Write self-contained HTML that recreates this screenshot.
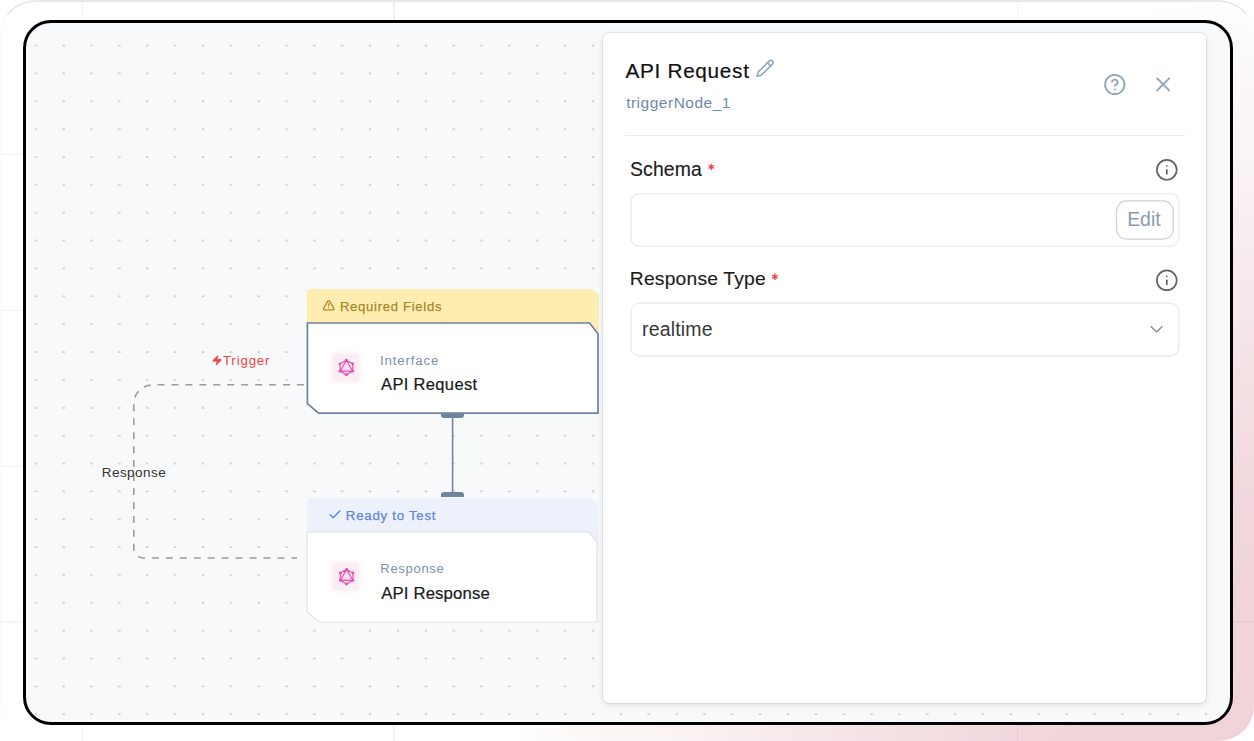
<!DOCTYPE html>
<html>
<head>
<meta charset="utf-8">
<style>
*{box-sizing:border-box;}
html,body{margin:0;padding:0;}
body{width:1254px;height:741px;overflow:hidden;position:relative;background:#fff;font-family:"Liberation Sans",sans-serif;}
.abs{position:absolute;}
#outer{position:absolute;left:0;top:0;width:1254px;height:741px;border-radius:35px;overflow:hidden;
  background:radial-gradient(circle 740px at 100% 100%, #f0d3d9 0%, #f1d6dc 30%, #f4e1e4 48%, #f7ebed 65%, #faf4f4 80%, #fcf9f9 92%, #ffffff 100%);
}
#topbar{position:absolute;left:0;top:0;width:1254px;height:741px;border-radius:35px;border:1px solid rgba(0,0,0,0.02);border-top:2px solid #e8e8ec;border-bottom:none;border-right-color:transparent;}
.gv{position:absolute;top:0;width:1.6px;height:741px;background:rgba(120,110,140,0.11);}
.gh{position:absolute;left:0;height:1.4px;width:1254px;background:linear-gradient(to right, rgba(110,110,140,0.09) 0%, rgba(110,110,140,0.09) 80%, rgba(110,110,140,0) 97%);}
#frame{position:absolute;left:22.5px;top:19.5px;width:1210px;height:705px;border:3px solid #000;border-radius:28px;background:#f8f9fb;overflow:hidden;}
#inner{position:absolute;left:-25.5px;top:-22.5px;width:1254px;height:741px;}
.t{position:absolute;white-space:nowrap;line-height:1;}
</style>
</head>
<body>
<div id="outer">
  <div class="gv" style="left:81.5px"></div>
  <div class="gv" style="left:393.2px"></div>
  <div class="gv" style="left:1016.5px"></div>
  <div class="gh" style="top:153.6px"></div>
  <div class="gh" style="top:309.6px"></div>
  <div class="gh" style="top:465.6px"></div>
  <div class="gh" style="top:621.2px;background:rgba(150,110,130,0.08)"></div>
</div>
<div id="topbar"></div>
<div id="frame">
 <div id="inner">
  <svg class="abs" style="left:0;top:0" width="1254" height="741">
    <defs>
      <pattern id="dots" x="35.8" y="45.5" width="27.86" height="27.86" patternUnits="userSpaceOnUse">
        <ellipse cx="0" cy="0" rx="1.5" ry="0.55" fill="#a2a4aa"/>
        <ellipse cx="27.86" cy="0" rx="1.5" ry="0.55" fill="#a2a4aa"/>
        <ellipse cx="0" cy="27.86" rx="1.5" ry="0.55" fill="#a2a4aa"/>
        <ellipse cx="27.86" cy="27.86" rx="1.5" ry="0.55" fill="#a2a4aa"/>
      </pattern>
    </defs>
    <rect x="0" y="0" width="1203" height="704" fill="url(#dots)"/><rect x="0" y="704" width="1254" height="37" fill="url(#dots)"/>
    <!-- dashed response edge -->
    <path id="dpath" d="M304 384.8 H152.8 A19 19 0 0 0 133.8 403.8 V548 A10 10 0 0 0 143.8 558 H297.2" fill="none" stroke="#9c9c9c" stroke-width="1.6" stroke-dasharray="7 6.95"/>
    <!-- vertical edge between nodes -->
    <line x1="452.6" y1="416" x2="452.6" y2="495" stroke="#7085a0" stroke-width="1.6"/>
  </svg>

  <!-- edge labels -->
  <div class="t" id="t_trigger" style="left:222.93px;top:353.7px;font-size:13.25px;color:#ef4444;letter-spacing:0.85px;">Trigger</div>
  <div class="t" id="t_resplabel" style="left:101.77px;top:465.7px;font-size:13.5px;color:#333;letter-spacing:0.45px;">Response</div>

  <!-- Node 1 -->
  <div class="abs" style="left:306.8px;top:288.6px;width:292px;height:50px;background:#fdedb0;clip-path:polygon(0 3px,3px 0,calc(100% - 7.5px) 0,100% 5.5px,100% 100%,0 100%);"></div>
  <div class="t" id="t_reqf" style="left:339.99px;top:299.9px;font-size:13px;color:#a7862a;letter-spacing:0.74px;-webkit-text-stroke:0.25px #a7862a;">Required Fields</div>
  <svg class="abs" style="left:306px;top:322px" width="294" height="93">
    <path d="M1.4 1 H283.6 L292 11.8 V91.2 H12.6 L1.4 81.6 Z" fill="#fff" stroke="#6f839e" stroke-width="1.7" stroke-linejoin="miter"/>
  </svg>
  <div class="abs" style="left:332.5px;top:353.5px;width:26.5px;height:27px;background:#f9eef3;border-radius:3px;box-shadow:0 0 4px 1px rgba(245,205,220,0.35);"></div>
  <div class="t" id="t_interface" style="left:380.04px;top:353.7px;font-size:13.25px;color:#7d92ae;letter-spacing:0.85px;">Interface</div>
  <div class="t" id="t_apireq" style="left:381.04px;top:375.5px;font-size:16.5px;color:#1a1a1a;letter-spacing:0.34px;-webkit-text-stroke:0.2px #1a1a1a;">API Request</div>
  <div class="abs" style="left:441px;top:412.5px;width:23px;height:5.5px;background:#6f84a0;border-radius:0 0 3px 3px;"></div>

  <!-- Node 2 -->
  <div class="abs" style="left:441.4px;top:491.9px;width:22.5px;height:5.6px;background:#6f84a0;border-radius:3px 3px 0 0;"></div>
  <div class="abs" style="left:307px;top:498.1px;width:291.7px;height:50px;background:#ecf1fc;clip-path:polygon(0 3px,3px 0,calc(100% - 7.7px) 0,100% 5.7px,100% 100%,0 100%);"></div>
  <div class="t" id="t_ready" style="left:345.87px;top:508.7px;font-size:13.25px;color:#5b85e0;letter-spacing:0.74px;-webkit-text-stroke:0.25px #5b85e0;">Ready to Test</div>
  <svg class="abs" style="left:306px;top:531px" width="294" height="92">
    <path d="M1.2 0.8 H282.6 L291 10.8 V91 H12.6 L1.2 80.9 Z" fill="#fff" stroke="#e1e3e7" stroke-width="1.2"/>
  </svg>
  <div class="abs" style="left:332.8px;top:562.7px;width:26.5px;height:27px;background:#f9eef3;border-radius:3px;box-shadow:0 0 4px 1px rgba(245,205,220,0.35);"></div>
  <div class="t" id="t_resp" style="left:380.29px;top:562.1px;font-size:13px;color:#7d92ae;letter-spacing:0.71px;">Response</div>
  <div class="t" id="t_apiresp" style="left:381.24px;top:585.7px;font-size:16.75px;color:#1a1a1a;letter-spacing:0.13px;-webkit-text-stroke:0.2px #1a1a1a;">API Response</div>

  <!-- Panel -->
  <div class="abs" style="left:603.4px;top:32.5px;width:603px;height:670px;background:#fff;border-radius:6px;box-shadow:0 0 0 1px rgba(0,0,0,0.04), 0 2px 6px rgba(0,0,0,0.11), 0 0 2px rgba(0,0,0,0.06);"></div>
  <div class="t" id="t_title" style="left:625.44px;top:61.3px;font-size:20.75px;color:#111;letter-spacing:0.7px;-webkit-text-stroke:0.2px #111;">API Request</div>
  <div class="t" id="t_trig" style="left:626.14px;top:94.95px;font-size:15.5px;color:#7189ab;letter-spacing:0.51px;">triggerNode_1</div>
  <div class="abs" style="left:625px;top:134.6px;width:560px;height:1px;background:#f4e9e9;"></div>

  <div class="t" id="t_schema" style="left:630.06px;top:159.9px;font-size:19.4px;color:#1c1c1c;letter-spacing:0.1px;-webkit-text-stroke:0.15px #1c1c1c;">Schema</div>
    <svg class="abs" style="left:0;top:0" width="1254" height="741"><rect x="631" y="193.55" width="547.9" height="52.75" rx="8.5" fill="#fff" stroke="#e8eaee" stroke-width="1.3"/><rect x="1116.5" y="200.9" width="56.8" height="38.2" rx="10" fill="#fff" stroke="#cdd2da" stroke-width="1.2"/><rect x="631" y="303.15" width="547.9" height="52.85" rx="8.5" fill="#fff" stroke="#e8eaee" stroke-width="1.3"/></svg>
  <div class="t" id="t_edit" style="left:1127.17px;top:210.4px;font-size:19.5px;color:#8a9cb4;letter-spacing:-0.06px;">Edit</div>

  <div class="t" id="t_resptype" style="left:629.79px;top:269.2px;font-size:19.25px;color:#1c1c1c;letter-spacing:0.21px;-webkit-text-stroke:0.15px #1c1c1c;">Response Type</div>
    <div class="t" id="t_realtime" style="left:642.02px;top:319.8px;font-size:19.5px;color:#373737;letter-spacing:0.17px;">realtime</div>
  <svg class="abs" style="left:0;top:0;overflow:visible" width="1254" height="741">
    <!-- graphql icons -->
    <path d="M346.40 360.20 L352.72 371.15 L340.08 371.15 Z" fill="#f9dcee" stroke="none"/><path d="M346.40 360.20 L352.72 363.85 L352.72 371.15 L346.40 374.80 L340.08 371.15 L340.08 363.85 Z M346.40 360.20 L352.72 371.15 L340.08 371.15 Z" fill="none" stroke="#e84fb3" stroke-width="1.15"/><g fill="#e84fb3"><circle cx="346.40" cy="360.20" r="1.45"/><circle cx="352.72" cy="363.85" r="1.45"/><circle cx="352.72" cy="371.15" r="1.45"/><circle cx="346.40" cy="374.80" r="1.45"/><circle cx="340.08" cy="371.15" r="1.45"/><circle cx="340.08" cy="363.85" r="1.45"/></g>
    <path d="M346.60 569.40 L352.92 580.35 L340.28 580.35 Z" fill="#f9dcee" stroke="none"/><path d="M346.60 569.40 L352.92 573.05 L352.92 580.35 L346.60 584.00 L340.28 580.35 L340.28 573.05 Z M346.60 569.40 L352.92 580.35 L340.28 580.35 Z" fill="none" stroke="#e84fb3" stroke-width="1.15"/><g fill="#e84fb3"><circle cx="346.60" cy="569.40" r="1.45"/><circle cx="352.92" cy="573.05" r="1.45"/><circle cx="352.92" cy="580.35" r="1.45"/><circle cx="346.60" cy="584.00" r="1.45"/><circle cx="340.28" cy="580.35" r="1.45"/><circle cx="340.28" cy="573.05" r="1.45"/></g>
    <!-- warning -->
    <g transform="translate(322.46 299.0) scale(0.52)" fill="none" stroke="#b38f26" stroke-width="2.6" stroke-linecap="round" stroke-linejoin="round"><path d="m21.73 18-8-14a2 2 0 0 0-3.48 0l-8 14A2 2 0 0 0 4 21h16a2 2 0 0 0 1.73-3"/><path d="M12 9v4"/><path d="M12 17h.01"/></g>
    <!-- check -->
    <g transform="translate(327.8 507.5) scale(0.6)" fill="none" stroke="#5b85e0" stroke-width="2.4" stroke-linecap="round" stroke-linejoin="round"><path d="M20 6 9 17l-5-5"/></g>
    <!-- zap -->
    <g transform="translate(211.4 354.66) scale(0.47)" fill="#ef4444" stroke="#ef4444" stroke-width="1.5" stroke-linejoin="round"><path d="M4 14a1 1 0 0 1-.78-1.63l9.9-10.2a.5.5 0 0 1 .86.46l-1.92 6.02A1 1 0 0 0 13 10h7a1 1 0 0 1 .78 1.63l-9.9 10.2a.5.5 0 0 1-.86-.46l1.92-6.02A1 1 0 0 0 11 14z"/></g>
    <!-- pencil -->
    <g transform="translate(755.5 58.7) scale(0.8)" fill="none" stroke="#8fa3bd" stroke-width="1.9" stroke-linecap="round" stroke-linejoin="round"><path d="M21.174 6.812a1 1 0 0 0-3.986-3.987L3.842 16.174a2 2 0 0 0-.5.83l-1.321 4.352a.5.5 0 0 0 .623.622l4.353-1.32a2 2 0 0 0 .83-.497z"/><path d="m15 5 4 4"/></g>
    <!-- help -->
    <g transform="translate(1103.16 72.86) scale(0.97)" fill="none" stroke="#8fa3bd" stroke-width="1.9" stroke-linecap="round" stroke-linejoin="round"><circle cx="12" cy="12" r="10"/><path d="M9.09 9a3 3 0 0 1 5.83 1c0 2-3 3-3 3"/><path d="M12 17h.01"/></g>
    <!-- close -->
    <g transform="translate(1151.15 72.45)" fill="none" stroke="#8fa3bd" stroke-width="1.8" stroke-linecap="round" stroke-linejoin="round"><path d="M18 6 6 18"/><path d="m6 6 12 12"/></g>
    <!-- info 1 -->
    <g transform="translate(1154.8 157.85)" fill="none" stroke="#626262" stroke-width="1.7" stroke-linecap="round" stroke-linejoin="round"><circle cx="12" cy="12" r="9.9"/><path d="M12 16v-4"/><path d="M12 8h.01"/></g>
    <!-- info 2 -->
    <g transform="translate(1154.8 268.3)" fill="none" stroke="#626262" stroke-width="1.7" stroke-linecap="round" stroke-linejoin="round"><circle cx="12" cy="12" r="9.9"/><path d="M12 16v-4"/><path d="M12 8h.01"/></g>
    <!-- chevron -->
    <g transform="translate(1145.4 318.1) scale(0.93)" fill="none" stroke="#8e8e8e" stroke-width="1.4" stroke-linecap="round" stroke-linejoin="round"><path d="m6 9 6 6 6-6"/></g>
    <!-- asterisks -->
    <g stroke="#ef4444" stroke-width="1.35" stroke-linecap="butt">
      <path d="M711.25 163.7 V170 M708.5 165.25 L714 168.45 M714 165.25 L708.5 168.45"/>
      <path d="M774.9 273.6 V279.9 M772.15 275.15 L777.65 278.35 M777.65 275.15 L772.15 278.35"/>
    </g>
  </svg>
 </div>
</div>
</body>
</html>
